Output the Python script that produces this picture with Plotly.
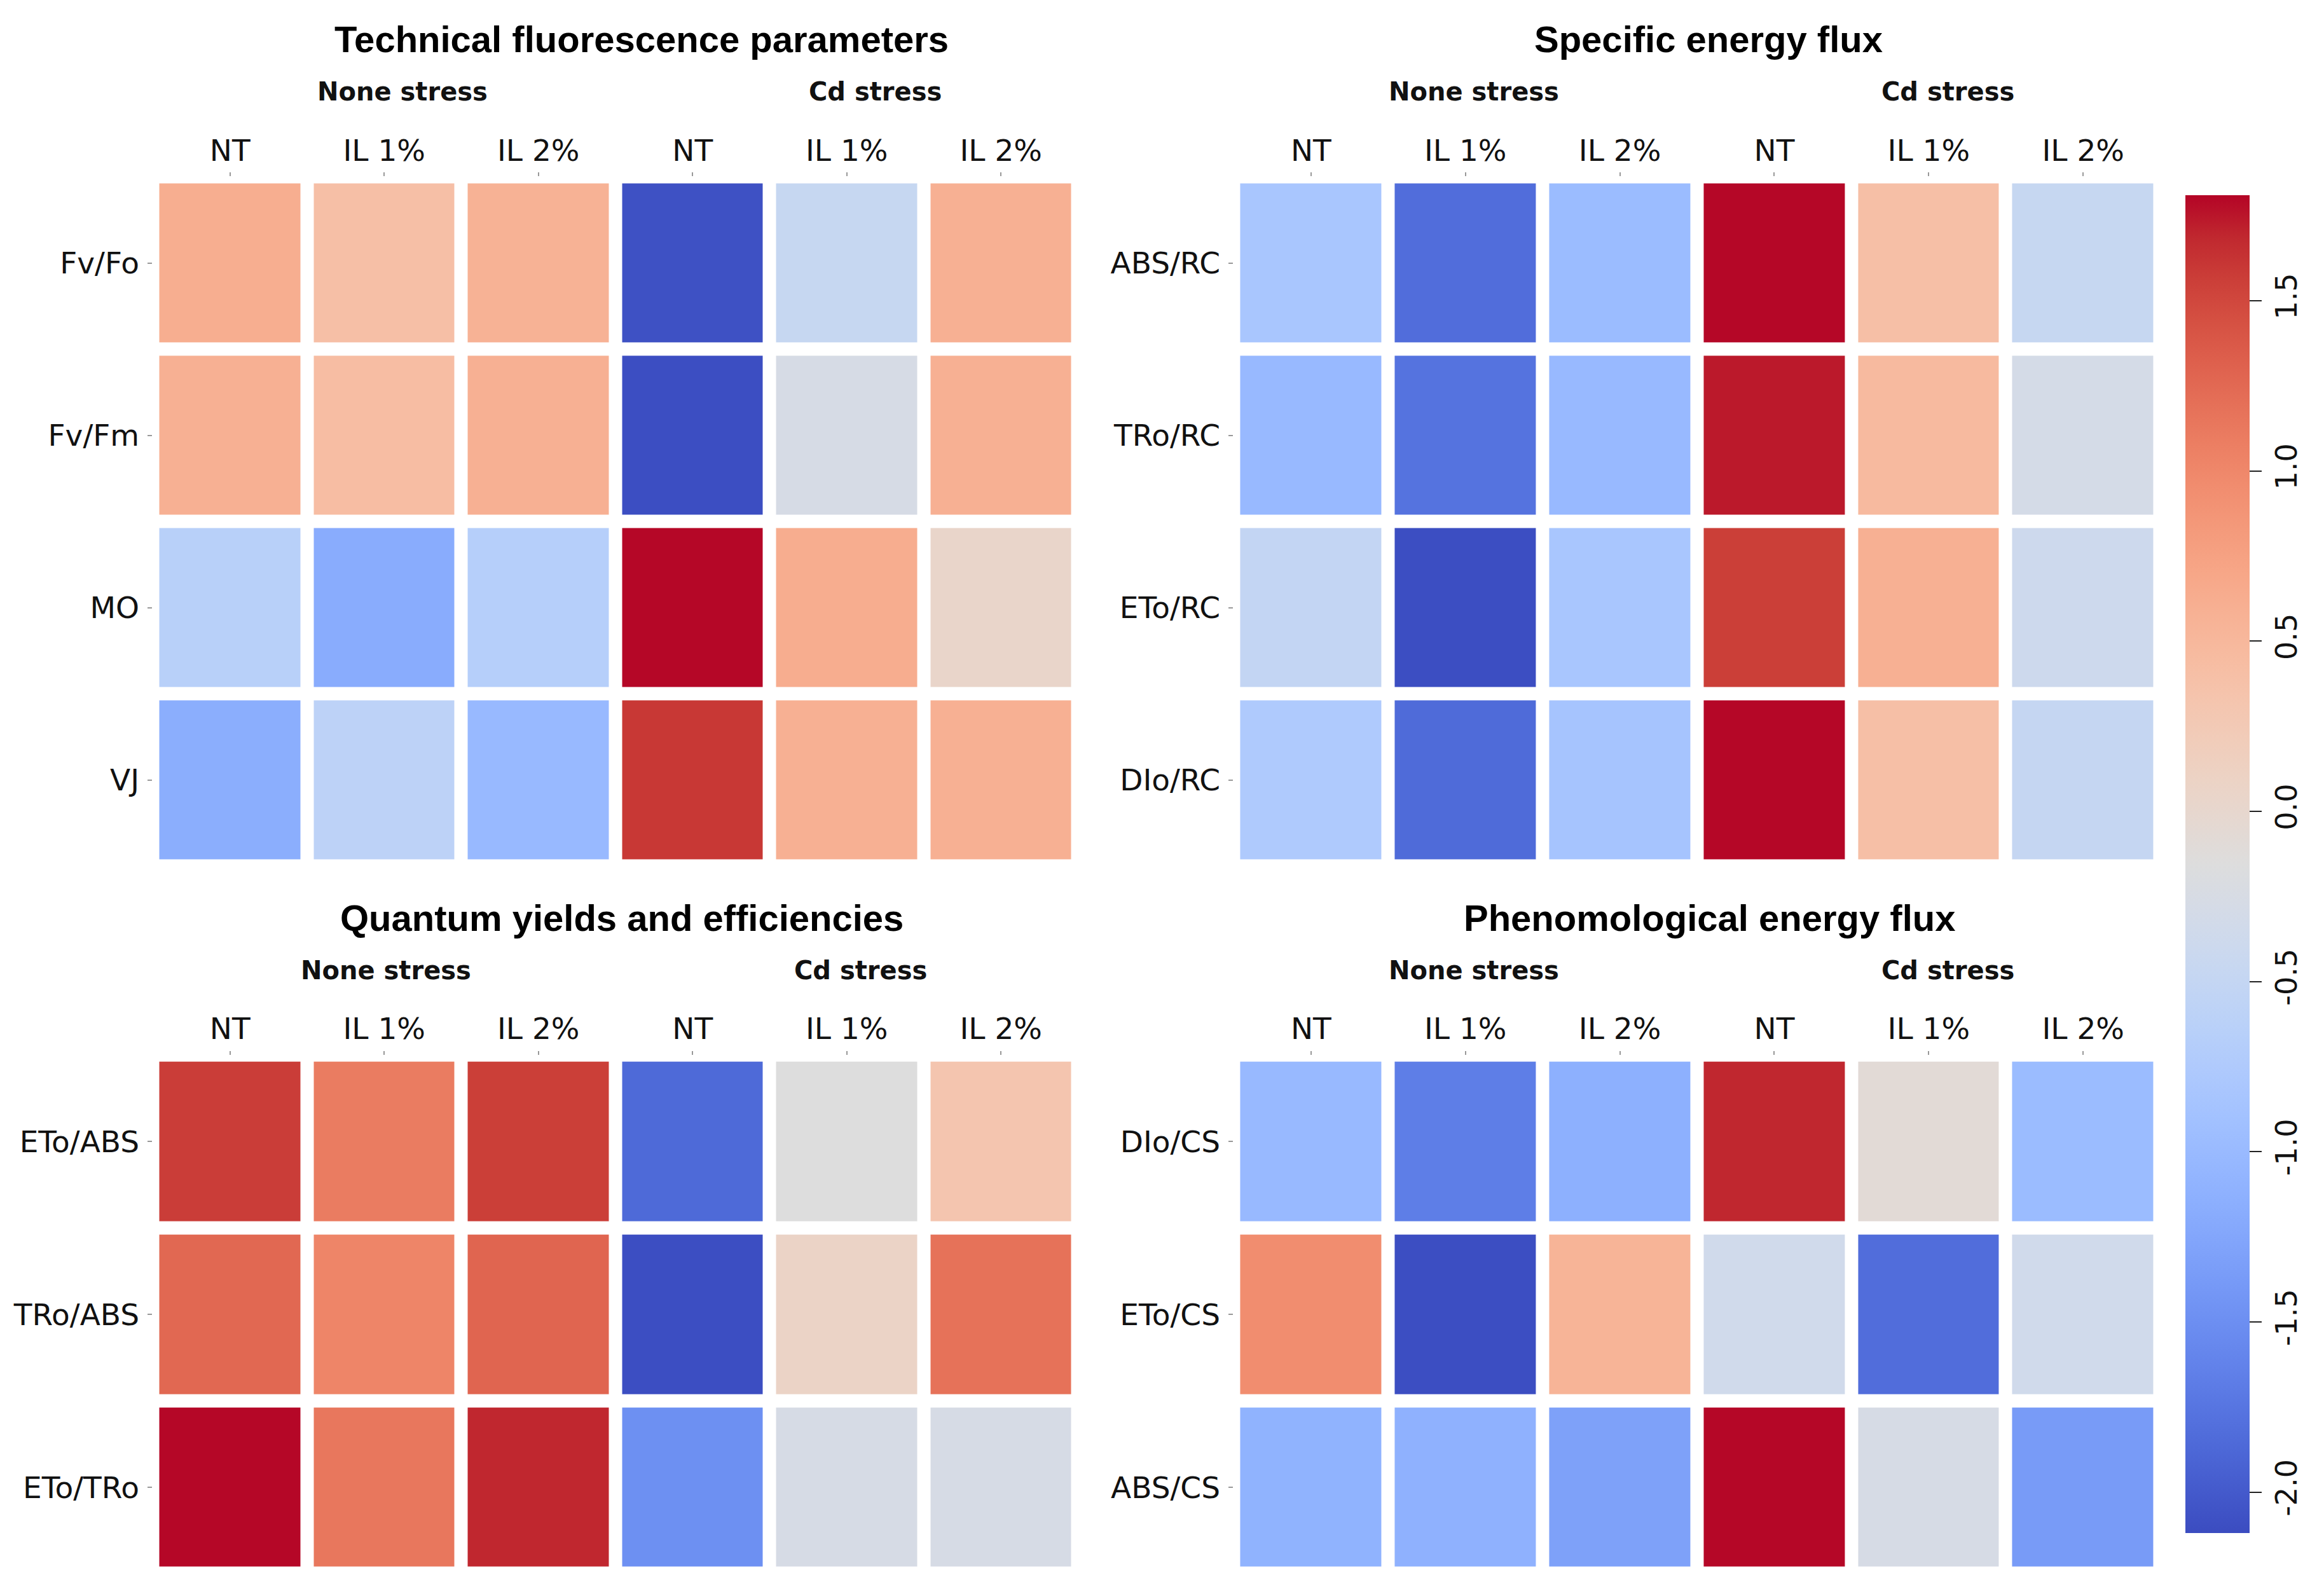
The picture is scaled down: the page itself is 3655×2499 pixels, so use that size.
import plotly.graph_objects as go

# ---------------- data ----------------
treatments = ["NT", "IL 1%", "IL 2%", "NT", "IL 1%", "IL 2%"]
groups = ["None stress", "Cd stress"]

panel_titles = [
    "Technical fluorescence parameters",
    "Specific energy flux",
    "Quantum yields and efficiencies",
    "Phenomological energy flux",
]

tech_params = ["Fv/Fo", "Fv/Fm", "MO", "VJ"]
tech_values = [
    [0.62, 0.40, 0.57, -2.08, -0.47, 0.59],
    [0.59, 0.43, 0.59, -2.10, -0.27, 0.59],
    [-0.65, -1.18, -0.67, 1.80, 0.63, 0.04],
    [-1.16, -0.59, -1.02, 1.60, 0.59, 0.59],
]

spec_params = ["ABS/RC", "TRo/RC", "ETo/RC", "DIo/RC"]
spec_values = [
    [-0.82, -1.83, -0.98, 1.80, 0.40, -0.47],
    [-1.02, -1.77, -1.02, 1.74, 0.47, -0.29],
    [-0.51, -2.10, -0.82, 1.56, 0.59, -0.39],
    [-0.76, -1.85, -0.86, 1.80, 0.40, -0.49],
]

quant_params = ["ETo/ABS", "TRo/ABS", "ETo/TRo"]
quant_values = [
    [1.57, 1.10, 1.56, -1.86, -0.16, 0.32],
    [1.26, 1.02, 1.28, -2.10, 0.08, 1.18],
    [1.80, 1.14, 1.69, -1.49, -0.27, -0.27],
]

phen_params = ["DIo/CS", "ETo/CS", "ABS/CS"]
phen_values = [
    [-1.02, -1.67, -1.14, 1.69, -0.08, -0.98],
    [0.95, -2.10, 0.55, -0.35, -1.83, -0.35],
    [-1.10, -1.12, -1.31, 1.80, -0.27, -1.37],
]

color_min, color_max = -2.12, 1.81
cbar_ticks = [-2.0, -1.5, -1.0, -0.5, 0.0, 0.5, 1.0, 1.5]

# matplotlib "coolwarm" (Moreland) colour table
coolwarm_rgb = [
    (59, 76, 192), (68, 90, 204), (77, 104, 215), (87, 117, 225), (98, 130, 234),
    (108, 142, 241), (119, 154, 247), (130, 165, 251), (141, 176, 254), (152, 185, 255),
    (163, 194, 255), (174, 201, 253), (184, 208, 249), (194, 213, 244), (204, 217, 238),
    (213, 219, 230), (221, 221, 221), (229, 216, 209), (236, 211, 197), (241, 204, 185),
    (245, 196, 173), (247, 187, 160), (247, 177, 148), (247, 166, 135), (244, 154, 123),
    (241, 141, 111), (236, 127, 99), (229, 112, 88), (222, 96, 77), (213, 80, 66),
    (203, 62, 56), (192, 40, 47), (180, 4, 38),
]
n = len(coolwarm_rgb) - 1
colorscale = [[i / n, "rgb(%d,%d,%d)" % c] for i, c in enumerate(coolwarm_rgb)]

panels = [
    (tech_params, tech_values),
    (spec_params, spec_values),
    (quant_params, quant_values),
    (phen_params, phen_values),
]

# ---------------- layout geometry ----------------
W, H = 3655, 2499
x_domains = [[0.0636, 0.4617], [0.5287, 0.9274], [0.0636, 0.4617], [0.5287, 0.9274]]
y_domains = [[0.4582, 0.8918], [0.4582, 0.8918], [0.0128, 0.3391], [0.0128, 0.3391]]
title_pos = [(0.2740, 0.9785), (0.7330, 0.9785), (0.2655, 0.4255), (0.7335, 0.4255)]
group_pos = [
    ((0.1710, 0.3745), 0.9455),
    ((0.6320, 0.8360), 0.9455),
    ((0.1640, 0.3680), 0.3925),
    ((0.6320, 0.8360), 0.3925),
]

tick_font = dict(family="DejaVu Sans", size=47, color="#111111")
title_font = dict(family="Liberation Sans", size=58, color="#000000")
group_font = dict(family="DejaVu Sans", size=40, color="#111111")

fig = go.Figure()
layout = dict(
    width=W,
    height=H,
    margin=dict(l=0, r=0, t=0, b=0),
    paper_bgcolor="white",
    plot_bgcolor="white",
    showlegend=False,
    coloraxis=dict(
        colorscale=colorscale,
        cmin=color_min,
        cmax=color_max,
        colorbar=dict(
            x=0.9383,
            xanchor="left",
            y=0.4594,
            yanchor="middle",
            len=0.842,
            lenmode="fraction",
            thickness=101,
            thicknessmode="pixels",
            xpad=0,
            ypad=0,
            outlinewidth=0,
            tickmode="array",
            tickvals=cbar_ticks,
            ticktext=["%.1f" % t for t in cbar_ticks],
            ticks="outside",
            ticklen=19,
            tickwidth=2,
            tickcolor="#222222",
            tickangle=-90,
            tickfont=dict(family="DejaVu Sans", size=46, color="#111111"),
        ),
    ),
)

annotations = []
for i, (params, values) in enumerate(panels):
    k = "" if i == 0 else str(i + 1)
    fig.add_trace(
        go.Heatmap(
            z=values,
            x=list(range(len(treatments))),
            y=params,
            coloraxis="coloraxis",
            xgap=21,
            ygap=21,
            xaxis="x" + k,
            yaxis="y" + k,
            hoverongaps=False,
        )
    )
    layout["xaxis" + k] = dict(
        domain=x_domains[i],
        anchor="y" + k,
        side="top",
        range=[-0.5, len(treatments) - 0.5],
        tickmode="array",
        tickvals=list(range(len(treatments))),
        ticktext=treatments,
        ticks="outside",
        ticklen=6,
        tickwidth=2,
        tickcolor="#999999",
        ticklabelstandoff=0,
        showgrid=False,
        zeroline=False,
        showline=False,
        automargin=False,
        tickfont=tick_font,
    )
    layout["yaxis" + k] = dict(
        domain=y_domains[i],
        anchor="x" + k,
        type="category",
        range=[len(params) - 0.5, -0.5],
        ticks="outside",
        ticklen=7,
        tickwidth=2,
        tickcolor="#999999",
        ticklabelstandoff=4,
        showgrid=False,
        zeroline=False,
        showline=False,
        automargin=False,
        tickfont=tick_font,
    )
    tx, ty = title_pos[i]
    annotations.append(
        dict(
            text="<b>%s</b>" % panel_titles[i],
            x=tx, y=ty, xref="paper", yref="paper",
            xanchor="center", yanchor="middle",
            showarrow=False, font=title_font,
        )
    )
    (gx1, gx2), gy = group_pos[i]
    for gx, g in zip((gx1, gx2), groups):
        annotations.append(
            dict(
                text="<b>%s</b>" % g,
                x=gx, y=gy, xref="paper", yref="paper",
                xanchor="center", yanchor="middle",
                showarrow=False, font=group_font,
            )
        )

layout["annotations"] = annotations
fig.update_layout(**layout)
fig.write_html("out.html")
